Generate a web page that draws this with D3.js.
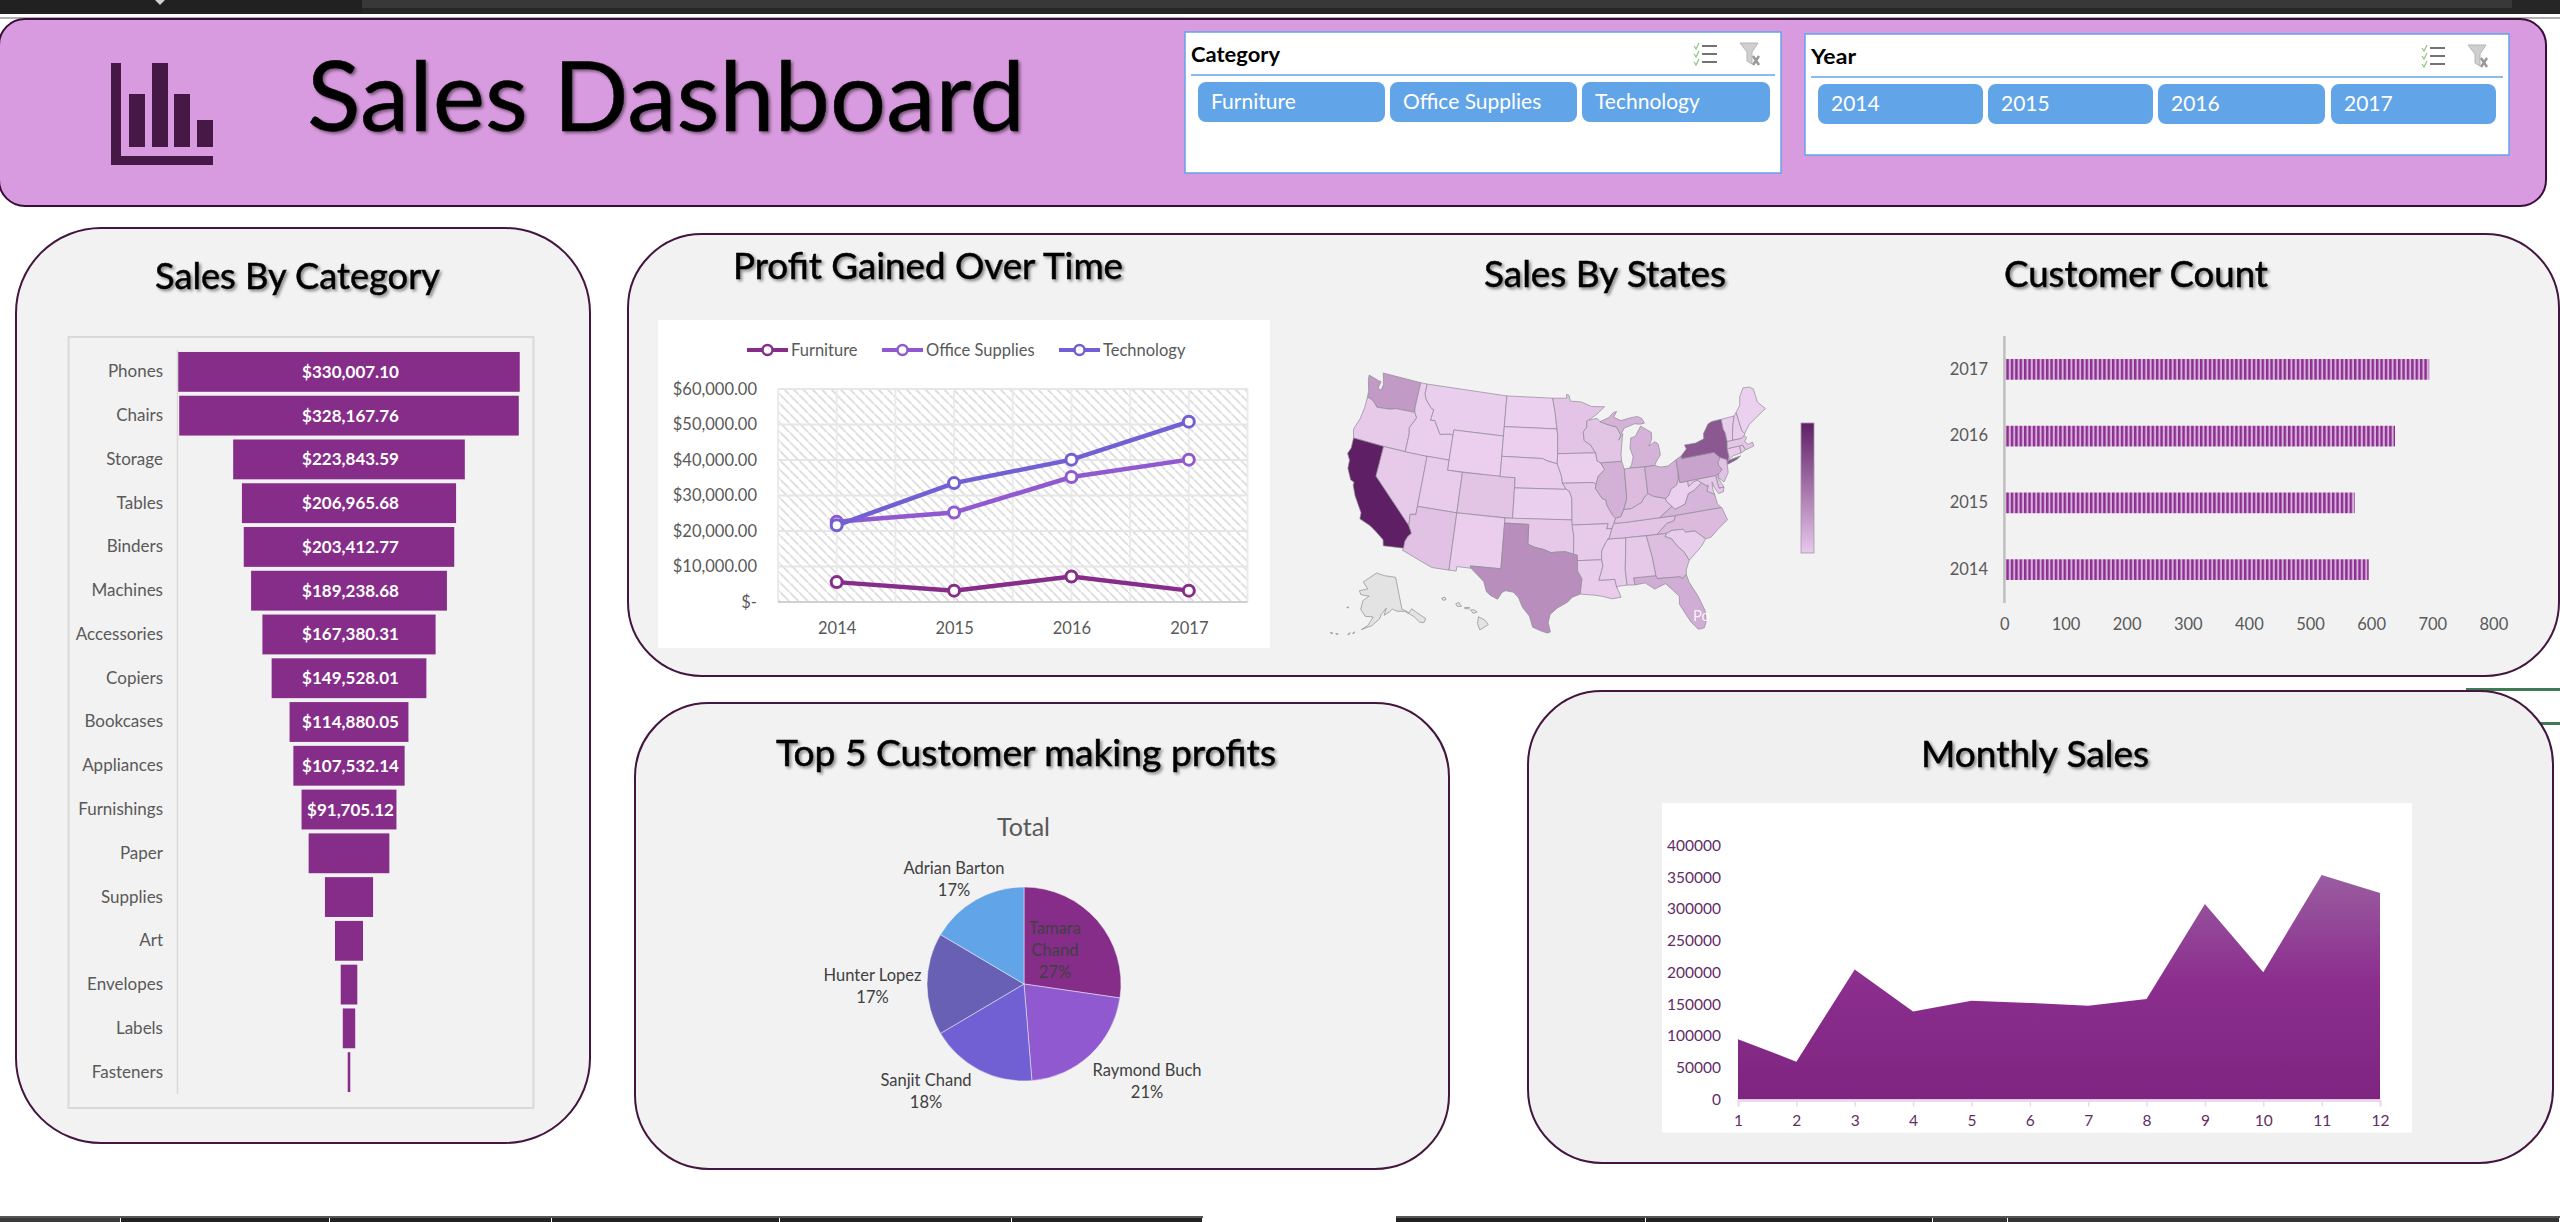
<!DOCTYPE html>
<html lang="en">
<head>
<meta charset="UTF-8">
<title>Sales Dashboard</title>
<style>
    body { margin: 0; background: #fff; }
    svg { display: block; font-family: Lato, "Open Sans", sans-serif; }
    .title { fill: #000; stroke: #000; stroke-width: 0.5px; filter: drop-shadow(2px 2px 1.5px rgba(0,0,0,.45)); }
</style>
<script src="https://d3js.org/d3.v7.min.js"></script>
</head>
<body>
<svg id="dash" width="2560" height="1222"></svg>
<script>
// ---- data ----
const categoryNames = ["Furniture", "Office Supplies", "Technology"];
const yearNames = ["2014", "2015", "2016", "2017"];

const subCategories = ["Phones", "Chairs", "Storage", "Tables", "Binders", "Machines", "Accessories", "Copiers", "Bookcases", "Appliances", "Furnishings", "Paper", "Supplies", "Art", "Envelopes", "Labels", "Fasteners"];
const subCategorySales = [330007.10, 328167.76, 223843.59, 206965.68, 203412.77, 189238.68, 167380.31, 149528.01, 114880.05, 107532.14, 91705.12, 78000, 46500, 27100, 16000, 12000, 2500];
const labelledBars = 11;

const profitYears = ["2014", "2015", "2016", "2017"];
const profitTicks = [0, 10000, 20000, 30000, 40000, 50000, 60000];
const furnitureProfit = [5600, 3200, 7200, 3200];
const officeProfit = [22600, 25200, 35200, 40100];
const technologyProfit = [21600, 33500, 40100, 50800];

const customerYears = ["2017", "2016", "2015", "2014"];
const customerCounts = [695, 639, 573, 596];
const customerTicks = [0, 100, 200, 300, 400, 500, 600, 700, 800];

const topCustomers = ["Tamara Chand", "Raymond Buch", "Sanjit Chand", "Hunter Lopez", "Adrian Barton"];
const topCustomerProfit = [27.3, 21.4, 17.8, 17.0, 16.5];
const topCustomerPct = ["27%", "21%", "18%", "17%", "17%"];

const months = [1, 2, 3, 4, 5, 6, 7, 8, 9, 10, 11, 12];
const monthlySales = [94700, 59300, 204600, 138200, 155100, 151800, 147400, 157800, 307400, 200200, 353100, 324800];
const monthlyTicks = [0, 50000, 100000, 150000, 200000, 250000, 300000, 350000, 400000];

const stateSales = {
    CA: 457688, NY: 310876, TX: 170188, WA: 138641, PA: 116512, FL: 89474, IL: 80166, OH: 78258, MI: 76270, VA: 70636,
    NC: 55603, IN: 53555, GA: 49096, KY: 36592, NJ: 35764, AZ: 35282, WI: 32115, CO: 32108, TN: 30662, MN: 29863,
    MA: 28634, DE: 27451, MD: 23706, RI: 22628, MO: 22205, OK: 19683, AL: 19511, OR: 17431, NV: 16729, CT: 13384,
    AR: 11678, UT: 11220, MS: 10771, LA: 9217, VT: 8929, SC: 8482, NE: 7465, NH: 7293, MT: 5589, NM: 4784,
    IA: 4580, ID: 4382, KS: 2914, DC: 2865, WY: 1603, SD: 1316, ME: 1271, WV: 1209, ND: 920
};

// rough state outlines, lon/lat
const stateRings = {
    WA: [[[-124.7,48.4],[-123.2,48.15],[-122.75,48.1],[-122.9,47.4],[-122.4,47.3],[-122.3,47.9],[-122.5,48.4],[-122.8,49],[-117.03,49],[-117.04,46.42],[-116.92,45.99],[-119,45.93],[-119.6,45.92],[-120.5,45.7],[-121.2,45.65],[-122.3,45.55],[-122.8,45.9],[-123.3,46.15],[-124,46.27],[-124.1,46.9],[-124.6,47.9]]],
    OR: [[[-124,46.27],[-123.3,46.15],[-122.8,45.9],[-122.3,45.55],[-121.2,45.65],[-120.5,45.7],[-119.6,45.92],[-119,45.93],[-116.92,45.99],[-116.5,45.5],[-116.85,44.95],[-117.2,44.4],[-117.03,43.8],[-117.03,42],[-120,42],[-124.2,42],[-124.55,42.85],[-124.1,44],[-123.95,45.2]]],
    CA: [[[-124.2,42],[-120,42],[-120,39],[-114.63,35],[-114.13,34.3],[-114.5,33.9],[-114.72,33.4],[-114.72,32.72],[-117.12,32.53],[-117.3,33.1],[-118.4,33.75],[-119.2,34.15],[-120.6,34.55],[-120.65,35.15],[-121.9,36.6],[-122.5,37.55],[-122.5,37.85],[-123,38],[-123.75,39],[-123.85,39.8],[-124.35,40.4],[-124.1,41]]],
    NV: [[[-120,42],[-117.03,42],[-114.04,42],[-114.04,37],[-114.04,36.2],[-114.75,36.1],[-114.63,35],[-120,39]]],
    ID: [[[-117.03,49],[-116.05,49],[-116.05,48],[-115.7,47.45],[-114.7,46.7],[-114.35,46.65],[-114.5,45.55],[-113.9,45.6],[-113.45,45.05],[-112.85,44.35],[-111.5,44.55],[-111.05,44.48],[-111.05,42],[-114.04,42],[-117.03,42],[-117.03,43.8],[-117.2,44.4],[-116.85,44.95],[-116.5,45.5],[-116.92,45.99],[-117.04,46.42]]],
    MT: [[[-116.05,49],[-104.05,49],[-104.05,45],[-111.05,45],[-111.05,44.48],[-111.5,44.55],[-112.85,44.35],[-113.45,45.05],[-113.9,45.6],[-114.5,45.55],[-114.35,46.65],[-114.7,46.7],[-115.7,47.45],[-116.05,48]]],
    WY: [[[-111.05,45],[-104.05,45],[-104.05,41],[-111.05,41]]],
    UT: [[[-114.04,42],[-111.05,42],[-111.05,41],[-109.05,41],[-109.05,37],[-114.04,37]]],
    CO: [[[-109.05,41],[-102.05,41],[-102.05,37],[-109.05,37]]],
    AZ: [[[-114.04,37],[-109.05,37],[-109.05,31.33],[-111.07,31.33],[-114.81,32.5],[-114.72,32.72],[-114.72,33.4],[-114.5,33.9],[-114.13,34.3],[-114.63,35],[-114.75,36.1],[-114.04,36.2]]],
    NM: [[[-109.05,37],[-103,37],[-103.04,32],[-106.62,32],[-106.53,31.78],[-108.2,31.78],[-108.2,31.33],[-109.05,31.33]]],
    ND: [[[-104.05,49],[-97.23,49],[-96.85,47.6],[-96.56,45.94],[-104.05,45.94]]],
    SD: [[[-104.05,45.94],[-96.56,45.94],[-96.45,45.3],[-96.45,43.5],[-96.5,42.5],[-97.9,42.8],[-98.5,43],[-104.05,43]]],
    NE: [[[-104.05,43],[-98.5,43],[-97.9,42.8],[-96.5,42.5],[-96.1,41.7],[-95.9,41.2],[-95.8,40.6],[-95.3,40],[-102.05,40],[-102.05,41],[-104.05,41]]],
    KS: [[[-102.05,40],[-95.3,40],[-94.9,39.8],[-94.6,39.1],[-94.62,37],[-102.05,37]]],
    OK: [[[-103,37],[-94.62,37],[-94.43,35.4],[-94.48,33.64],[-95.5,33.9],[-96.6,33.85],[-97.2,33.8],[-98.1,34.1],[-99.2,34.3],[-100,34.56],[-100,36.5],[-103,36.5]]],
    TX: [[[-103,36.5],[-100,36.5],[-100,34.56],[-99.2,34.3],[-98.1,34.1],[-97.2,33.8],[-96.6,33.85],[-95.5,33.9],[-94.48,33.64],[-94.04,33.55],[-94.04,33],[-94.04,31.99],[-93.55,31.2],[-93.8,29.7],[-94.7,29.4],[-95.3,28.9],[-96.4,28.35],[-97.2,27.7],[-97.4,26.9],[-97.15,25.95],[-97.5,25.85],[-98.2,26.05],[-99.1,26.4],[-99.5,27.5],[-100.3,28.3],[-100.8,29.25],[-101.4,29.77],[-102.3,29.88],[-102.7,29.7],[-103.15,28.98],[-104,29.3],[-104.5,29.65],[-104.9,30.6],[-106,31.4],[-106.53,31.78],[-106.62,32],[-103.04,32]]],
    MN: [[[-97.23,49],[-95.15,49],[-95.15,49.38],[-94.8,49.3],[-94.6,48.7],[-93,48.6],[-91.5,48.1],[-89.6,48],[-90.8,47.3],[-92.05,46.75],[-92.3,46.65],[-92.3,46.1],[-92.85,45.6],[-92.75,44.75],[-91.9,44.3],[-91.25,43.5],[-96.45,43.5],[-96.45,45.3],[-96.56,45.94],[-96.85,47.6]]],
    IA: [[[-96.45,43.5],[-91.25,43.5],[-91.1,42.7],[-90.65,42.5],[-90.15,41.8],[-91.05,41.2],[-91.4,40.4],[-91.73,40.6],[-95.8,40.6],[-95.9,41.2],[-96.1,41.7],[-96.5,42.5]]],
    MO: [[[-95.8,40.6],[-91.73,40.6],[-91.4,40.4],[-91.5,40],[-90.7,39],[-90.2,38.8],[-90.2,38.4],[-89.5,37.3],[-89.15,37],[-89.4,36.5],[-89.7,36],[-90.37,36],[-90.15,36.5],[-94.62,36.5],[-94.62,37],[-94.6,39.1],[-94.9,39.8],[-95.3,40]]],
    AR: [[[-94.62,36.5],[-90.15,36.5],[-90.37,36],[-89.7,36],[-90.1,35.1],[-90.6,34.6],[-91.1,33.9],[-91.17,33],[-94.04,33],[-94.04,33.55],[-94.48,33.64],[-94.43,35.4]]],
    LA: [[[-94.04,33],[-91.17,33],[-91.05,32.4],[-91.6,31],[-89.75,31],[-89.6,30.2],[-89.4,29.8],[-89.2,29.2],[-90.2,29.1],[-91.3,29.4],[-92.2,29.55],[-93.8,29.7],[-93.55,31.2],[-94.04,31.99]]],
    MS: [[[-90.3,35],[-88.2,35],[-88.1,34.9],[-88.47,31.9],[-88.4,30.35],[-89.35,30.3],[-89.6,30.2],[-89.75,31],[-91.6,31],[-91.05,32.4],[-91.17,33],[-91.1,33.9],[-90.6,34.6]]],
    TN: [[[-89.7,36],[-89.4,36.5],[-88.05,36.5],[-83.68,36.6],[-81.68,36.59],[-82,36.1],[-82.9,35.95],[-84.3,35],[-88.2,35],[-90.3,35],[-90.1,35.1]]],
    KY: [[[-89.4,36.5],[-89.15,37],[-88.5,37.1],[-88.05,37.8],[-87.1,37.8],[-86.3,38.1],[-85.7,38.3],[-85.4,38.7],[-84.8,39.1],[-84.2,38.8],[-83.7,38.65],[-82.6,38.4],[-82.6,38.15],[-81.97,37.54],[-83.68,36.6],[-88.05,36.5]]],
    IL: [[[-90.65,42.5],[-87.8,42.5],[-87.55,41.75],[-87.53,39.35],[-87.6,38.7],[-88.05,37.8],[-88.5,37.1],[-89.15,37],[-89.5,37.3],[-90.2,38.4],[-90.2,38.8],[-90.7,39],[-91.5,40],[-91.4,40.4],[-91.05,41.2],[-90.15,41.8]]],
    WI: [[[-92.05,46.75],[-90.8,46.9],[-90.4,46.55],[-89.1,46.15],[-88.1,45.9],[-87.6,45.1],[-87.95,44.6],[-87.3,45.2],[-87.55,44.3],[-87.8,43.2],[-87.8,42.5],[-90.65,42.5],[-91.1,42.7],[-91.25,43.5],[-91.9,44.3],[-92.75,44.75],[-92.85,45.6],[-92.3,46.1],[-92.3,46.65]]],
    MI: [[[-86.8,41.76],[-84.8,41.72],[-83.45,41.73],[-83.15,42.1],[-82.5,42.7],[-82.5,43],[-82.6,43.8],[-83,44.05],[-83.9,43.7],[-83.4,44.3],[-83.3,45],[-84.7,45.75],[-85.6,44.8],[-86.25,44.7],[-86.5,43.7],[-86.2,42.8],[-86.5,42.1]],
         [[-90.4,46.55],[-89.1,46.9],[-88.4,47.35],[-87.9,47.45],[-88.4,46.9],[-87.4,46.5],[-86.1,46.67],[-85,46.75],[-84.4,46.5],[-84.1,46],[-84.7,45.95],[-85.5,46.05],[-86.5,45.85],[-87,45.75],[-87.6,45.1],[-88.1,45.9],[-89.1,46.15]]],
    IN: [[[-87.53,41.72],[-86.8,41.76],[-84.8,41.72],[-84.8,39.1],[-85.4,38.7],[-85.7,38.3],[-86.3,38.1],[-87.1,37.8],[-88.05,37.8],[-87.6,38.7],[-87.53,39.35]]],
    OH: [[[-84.8,41.72],[-83.45,41.73],[-82.7,41.5],[-81.7,41.5],[-80.52,41.98],[-80.52,40.64],[-80.65,40],[-81,39.5],[-81.75,39.2],[-82.2,38.6],[-82.6,38.4],[-83.7,38.65],[-84.2,38.8],[-84.8,39.1]]],
    WV: [[[-80.52,40.64],[-80.52,39.72],[-79.48,39.72],[-79.48,39.2],[-78.75,39.55],[-78.2,39.65],[-77.75,39.32],[-78.35,39],[-78.9,38.7],[-79.65,38.5],[-80.3,37.55],[-81.25,37.3],[-81.68,37.2],[-81.97,37.54],[-82.6,38.15],[-82.6,38.4],[-82.2,38.6],[-81.75,39.2],[-81,39.5],[-80.65,40]]],
    VA: [[[-83.68,36.6],[-81.97,37.54],[-81.68,37.2],[-81.25,37.3],[-80.3,37.55],[-79.65,38.5],[-78.9,38.7],[-78.35,39],[-77.75,39.32],[-77.05,38.85],[-77.25,38.4],[-76.4,37.95],[-76.3,37],[-75.95,36.55],[-81.68,36.59]]],
    NC: [[[-81.68,36.59],[-75.87,36.55],[-75.5,35.25],[-76.6,34.7],[-77.9,33.9],[-78.55,33.85],[-79.67,34.8],[-80.8,34.82],[-81.05,35.15],[-82.4,35.2],[-83.1,35],[-84.3,35],[-82.9,35.95],[-82,36.1]]],
    SC: [[[-83.1,35],[-82.4,35.2],[-81.05,35.15],[-80.8,34.82],[-79.67,34.8],[-78.55,33.85],[-79.2,33.2],[-80.1,32.6],[-80.9,32.05],[-81.4,33],[-82,33.55],[-82.6,34.4],[-83.35,34.7]]],
    GA: [[[-85.6,35],[-84.3,35],[-83.1,35],[-83.35,34.7],[-82.6,34.4],[-82,33.55],[-81.4,33],[-80.9,32.05],[-81.4,31.2],[-81.5,30.72],[-82.05,30.36],[-82.2,30.57],[-84.86,30.7],[-85,31],[-85.1,32],[-85.18,32.87]]],
    FL: [[[-87.6,31],[-85,31],[-84.86,30.7],[-82.2,30.57],[-82.05,30.36],[-81.5,30.72],[-81.3,29.9],[-80.55,28.4],[-80.05,26.9],[-80.15,25.75],[-80.45,25.2],[-81.1,25.15],[-81.75,25.95],[-82.15,26.7],[-82.75,27.9],[-82.65,28.7],[-83.4,29.5],[-84,30.1],[-85.3,29.7],[-86.3,30.4],[-87.5,30.3]]],
    AL: [[[-88.2,35],[-85.6,35],[-85.18,32.87],[-85.1,32],[-85,31],[-87.6,31],[-87.5,30.3],[-88.4,30.35],[-88.47,31.9],[-88.1,34.9]]],
    PA: [[[-80.52,41.98],[-79.76,42.27],[-79.76,42],[-75.35,42],[-74.7,41.36],[-75.1,40.95],[-75.1,40.6],[-74.75,40.2],[-75.4,39.8],[-75.79,39.72],[-79.48,39.72],[-80.52,39.72],[-80.52,40.64]]],
    NY: [[[-79.76,42.27],[-78.9,42.85],[-79.05,43.27],[-77.5,43.25],[-76.3,43.5],[-76.2,44],[-75.3,44.85],[-74.7,45],[-73.35,45],[-73.4,44],[-73.25,43.6],[-73.28,42.75],[-73.5,42.05],[-73.5,41.3],[-73.65,41],[-73.95,40.75],[-73.9,41],[-74.7,41.36],[-75.35,42],[-79.76,42]],
         [[-74,40.6],[-73.7,40.9],[-72.6,41],[-72,41.05],[-72.6,40.8],[-73.9,40.55]]],
    NJ: [[[-74.7,41.36],[-73.9,41],[-74,40.45],[-74.1,39.75],[-74.9,38.95],[-75.5,39.5],[-75.4,39.8],[-74.75,40.2],[-75.1,40.6],[-75.1,40.95]]],
    DE: [[[-75.79,39.72],[-75.4,39.8],[-75.55,39.5],[-75.05,38.45],[-75.7,38.46]]],
    MD: [[[-79.48,39.72],[-75.79,39.72],[-75.7,38.46],[-75.05,38.45],[-75.25,38.03],[-75.9,37.95],[-76.25,38.6],[-76.4,39.2],[-76.5,38.5],[-76.4,37.95],[-77.25,38.4],[-77.05,38.85],[-77.75,39.32],[-78.2,39.65],[-78.75,39.55],[-79.48,39.2]]],
    DC: [[[-77.12,38.93],[-77.04,39],[-76.91,38.89],[-77.04,38.8]]],
    CT: [[[-73.5,42.05],[-71.8,42.02],[-71.85,41.32],[-72.9,41.25],[-73.65,41],[-73.5,41.3]]],
    RI: [[[-71.8,42.02],[-71.38,42.02],[-71.15,41.5],[-71.85,41.32]]],
    MA: [[[-73.5,42.05],[-73.28,42.75],[-72.46,42.73],[-71.3,42.7],[-70.85,42.88],[-70.6,42.65],[-71,42.3],[-70.6,41.95],[-70,42.05],[-69.95,41.67],[-70.65,41.55],[-71.15,41.5],[-71.38,42.02],[-71.8,42.02]]],
    VT: [[[-73.35,45],[-71.5,45.01],[-72.05,44],[-72.45,43],[-72.46,42.73],[-73.28,42.75],[-73.25,43.6],[-73.4,44]]],
    NH: [[[-71.5,45.01],[-71.08,45.3],[-70.98,43.4],[-70.7,43.07],[-70.85,42.88],[-71.3,42.7],[-72.46,42.73],[-72.45,43],[-72.05,44]]],
    ME: [[[-71.08,45.3],[-70.3,45.9],[-70,46.7],[-69.2,47.45],[-68.3,47.35],[-67.8,47.05],[-67.8,45.7],[-67,44.85],[-68.5,44.3],[-69.8,43.8],[-70.7,43.07],[-70.98,43.4]]]
};
const alaskaRings = [
    [[-141,69.6],[-141,60.3],[-139.5,59.8],[-137.5,58.9],[-135.5,59.8],[-133.5,58.4],[-130,55.9],[-131.5,55],[-133.5,55.5],[-135.5,57.5],[-137,58.3],[-139.8,59.6],[-144,60],[-146.5,60.8],[-148.5,60],[-151.5,59.2],[-150,61.2],[-153,59.5],[-154,58.2],[-158,56.2],[-163,54.8],[-160,56.2],[-157.5,58.7],[-162,58.7],[-165,60.5],[-164.5,63],[-161,64.5],[-166.5,64.6],[-168,65.6],[-162.5,66.5],[-166.5,68.3],[-163,69.5],[-156.6,71.3],[-150,70.5]],
    [[-166.9,53.4],[-166.2,53.9],[-166,53.6],[-166.7,53.2]],
    [[-169,52.8],[-168.2,53.4],[-168,53.2],[-168.9,52.6]],
    [[-174.5,52.1],[-173.5,52.2],[-173.5,52],[-174.5,51.95]],
    [[-177,51.9],[-176,52],[-176,51.7],[-177,51.7]],
    [[-173,60.2],[-172.2,60.4],[-172.2,60.1],[-173,60]]
];
const hawaiiRings = [
    [[-155.85,20.27],[-155.2,19.95],[-154.8,19.5],[-155.7,18.95],[-155.95,19.6]],
    [[-156.7,20.95],[-156.3,20.95],[-156,20.75],[-156.4,20.6]],
    [[-157.3,21.2],[-156.75,21.17],[-156.9,21.05],[-157.3,21.08]],
    [[-158.25,21.55],[-157.95,21.7],[-157.65,21.3],[-158.1,21.3]],
    [[-159.75,22.1],[-159.4,22.22],[-159.3,21.95],[-159.6,21.9]]
];

// ---- colours ----
const seriesColors = ["#862d8a", "#9159cf", "#7160d3"];
const pieColors = ["#862d8a", "#9159cf", "#7160d3", "#6760b5", "#62a4e8"];
const panelStroke = "#43163f", grey = "#595959";

const svg = d3.select("#dash");
const defs = svg.append("defs");

// hatch behind the line chart
const hatch = defs.append("pattern").attr("id", "hatch").attr("patternUnits", "userSpaceOnUse")
    .attr("width", 9.4).attr("height", 9.4);
hatch.append("path").attr("d", "M-1,-1L10.4,10.4").attr("stroke", "#d9d9d9").attr("stroke-width", 1.6);

// stripes of the customer bars
const stripes = defs.append("pattern").attr("id", "stripes").attr("patternUnits", "userSpaceOnUse")
    .attr("width", 4.4).attr("height", 30);
stripes.append("rect").attr("width", 4.4).attr("height", 30).attr("fill", "#d8b0db");
stripes.append("rect").attr("width", 2.4).attr("height", 30).attr("fill", "#8b2f90");

// ---- helpers ----
function panel(x, y, w, h, r, fill) {
    svg.append("rect").attr("x", x).attr("y", y).attr("width", w).attr("height", h).attr("rx", r).attr("ry", r)
        .attr("fill", fill || "#f2f2f2").attr("stroke", panelStroke).attr("stroke-width", 2);
}
function title(text, x0, x1, baseline, size) {
    svg.append("text").attr("class", "title").attr("x", x0).attr("y", baseline).attr("font-size", size)
        .attr("textLength", x1 - x0).attr("lengthAdjust", "spacingAndGlyphs").text(text);
}
function whiteBox(x, y, w, h) {
    svg.append("rect").attr("x", x).attr("y", y).attr("width", w).attr("height", h).attr("fill", "#fff");
}
function styleAxis(g, color, size) {
    g.select(".domain").remove();
    g.selectAll(".tick line").remove();
    g.selectAll("text").attr("fill", color).attr("font-size", size).attr("font-family", "Lato");
}

// ---- window chrome ----
svg.append("rect").attr("width", 2560).attr("height", 14).attr("fill", "#262626");
svg.append("rect").attr("x", 362).attr("width", 2150).attr("height", 8).attr("fill", "#383838");
svg.append("rect").attr("width", 362).attr("height", 14).attr("fill", "#212121");
svg.append("path").attr("d", "M155,0L165,0L160,5Z").attr("fill", "#d0d0d0");
svg.append("rect").attr("y", 17).attr("width", 2560).attr("height", 2).attr("fill", "#b0b0b0");

const footerBlocks = [[0, 121, "#3a3a3a"], [121, 209, "#222"], [330, 222, "#222"], [552, 228, "#222"], [780, 232, "#222"], [1012, 191, "#222"],
    [1396, 250, "#222"], [1646, 287, "#222"], [1933, 75, "#333"], [2008, 552, "#333"]];
footerBlocks.forEach(b => {
    svg.append("rect").attr("x", b[0]).attr("y", 1216).attr("width", b[1] - 1).attr("height", 6).attr("fill", b[2]);
    svg.append("rect").attr("x", b[0]).attr("y", 1216).attr("width", b[1]).attr("height", 2).attr("fill", "#555");
});

// stray cell borders on the right
svg.append("rect").attr("x", 2466).attr("y", 688).attr("width", 94).attr("height", 3).attr("fill", "#3f7a55");
svg.append("rect").attr("x", 2539).attr("y", 722).attr("width", 21).attr("height", 3).attr("fill", "#3f7a55");

// ---- header ----
svg.append("rect").attr("x", -1).attr("y", 19).attr("width", 2547).attr("height", 187).attr("rx", 26).attr("ry", 26)
    .attr("fill", "#d99bdf").attr("stroke", "#3a0c3c").attr("stroke-width", 2);

// chart icon
const iconColor = "#451845";
[[111, 63, 10, 102], [111, 156, 102, 9], [129, 94, 16, 53], [152, 63, 16, 84], [174, 94, 16, 53], [197, 120, 16, 27]].forEach(r => {
    svg.append("rect").attr("x", r[0]).attr("y", r[1]).attr("width", r[2]).attr("height", r[3]).attr("fill", iconColor);
});
title("Sales Dashboard", 307, 1025, 131, 96);

function slicer(name, items, x, y, w, h, btnY, btnXs) {
    svg.append("rect").attr("x", x).attr("y", y).attr("width", w).attr("height", h)
        .attr("fill", "#fff").attr("stroke", "#62a4e8").attr("stroke-width", 1.5);
    svg.append("text").attr("x", x + 6).attr("y", y + 30).attr("font-size", 21).attr("font-weight", 700).attr("fill", "#000")
        .attr("textLength", name.length > 4 ? 89 : 45).attr("lengthAdjust", "spacingAndGlyphs").text(name);
    svg.append("line").attr("x1", x + 6).attr("x2", x + w - 6).attr("y1", y + 43).attr("y2", y + 43).attr("stroke", "#62a4e8").attr("stroke-width", 1.5);

    // multi select + clear filter icons
    const ix = x + w - 87, iy = y + 11;
    [0, 1, 2].forEach(i => {
        svg.append("path").attr("d", `M${ix},${iy + 3 + i * 8}l2,3l3,-6`).attr("fill", "none").attr("stroke", "#8fc47f").attr("stroke-width", 1.2);
        svg.append("line").attr("x1", ix + 8).attr("x2", ix + 23).attr("y1", iy + 3 + i * 8).attr("y2", iy + 3 + i * 8).attr("stroke", "#444").attr("stroke-width", 1.5);
    });
    const fx = x + w - 41;
    svg.append("path").attr("d", `M${fx},${iy}h18l-6,9v12l-5,-3v-9Z`).attr("fill", "#cfcfcf").attr("stroke", "#b5b5b5");
    svg.append("path").attr("d", `M${fx + 13},${iy + 13}l6,9m0,-9l-6,9`).attr("stroke", "#999").attr("stroke-width", 2.5);

    items.forEach((t, i) => {
        svg.append("rect").attr("x", btnXs[i][0]).attr("y", btnY).attr("width", btnXs[i][1] - btnXs[i][0]).attr("height", 40).attr("rx", 8)
            .attr("fill", "#62a4e8");
        svg.append("text").attr("x", btnXs[i][0] + 13).attr("y", btnY + 27).attr("font-size", 21).attr("fill", "#fff").text(t);
    });
}
slicer("Category", categoryNames, 1185, 32, 596, 141, 82, [[1198, 1385], [1390, 1577], [1582, 1770]]);
slicer("Year", yearNames, 1805, 34, 704, 121, 84, [[1818, 1983], [1988, 2153], [2158, 2325], [2331, 2496]]);

// ---- sales by category funnel ----
panel(16, 228, 574, 915, 85);
title("Sales By Category", 155, 440, 289, 36);
svg.append("rect").attr("x", 68.5).attr("y", 337).attr("width", 465).attr("height", 771).attr("fill", "none").attr("stroke", "#d9d9d9").attr("stroke-width", 2);

const funnelY = d3.scaleBand().domain(subCategories).range([350, 1094]).paddingInner(0.09).paddingOuter(0.045);
const funnelW = d3.scaleLinear().domain([0, d3.max(subCategorySales)]).range([0, 341.5]);
const funnelCx = 349;

svg.append("line").attr("x1", 177.5).attr("x2", 177.5).attr("y1", 350).attr("y2", 1094).attr("stroke", "#d9d9d9").attr("stroke-width", 1.5);
svg.append("g").selectAll("rect").data(subCategories).join("rect")
    .attr("x", (d, i) => funnelCx - funnelW(subCategorySales[i]) / 2)
    .attr("y", d => funnelY(d))
    .attr("width", (d, i) => funnelW(subCategorySales[i]))
    .attr("height", funnelY.bandwidth())
    .attr("fill", "#862d8a");
svg.append("g").attr("transform", "translate(172,0)").call(d3.axisLeft(funnelY).tickSize(0).tickPadding(9))
    .call(g => styleAxis(g, grey, 17));

const money = d3.format("$,.2f");
svg.append("g").selectAll("text").data(subCategories.slice(0, labelledBars)).join("text")
    .attr("x", funnelCx + 1.5)
    .attr("y", d => funnelY(d) + funnelY.bandwidth() / 2 + 6)
    .attr("text-anchor", "middle").attr("font-size", 17).attr("font-weight", 700).attr("fill", "#fff")
    .text((d, i) => money(subCategorySales[i]));

// ---- wide panel ----
panel(628, 234, 1931, 442, 74);

// profit over time
title("Profit Gained Over Time", 733, 1123, 279, 36);
whiteBox(658, 320, 612, 328);

const profitX = d3.scalePoint().domain(profitYears).range([778, 1247.5]).padding(0.5);
const profitY = d3.scaleLinear().domain([0, 60000]).range([602, 389]);
svg.append("rect").attr("x", 778).attr("y", 389).attr("width", 469.5).attr("height", 213).attr("fill", "url(#hatch)");

const minorXs = d3.range(9).map(i => 778 + i * 469.5 / 8);
svg.append("g").selectAll("line").data(minorXs).join("line")
    .attr("x1", d => d).attr("x2", d => d).attr("y1", 389).attr("y2", 602).attr("stroke", "#ebebeb").attr("stroke-width", 2);
svg.append("g").selectAll("line").data(profitTicks).join("line")
    .attr("x1", 778).attr("x2", 1247.5).attr("y1", d => profitY(d)).attr("y2", d => profitY(d))
    .attr("stroke", d => d === 0 ? "#d0d0d0" : "#e6e6e6").attr("stroke-width", 2);

svg.append("g").attr("transform", "translate(757,0)")
    .call(d3.axisLeft(profitY).tickValues(profitTicks).tickSize(0).tickPadding(0).tickFormat(d => d === 0 ? "$-    " : money(d)))
    .call(g => styleAxis(g, grey, 16.5));
svg.append("g").attr("transform", "translate(0,602)").call(d3.axisBottom(profitX).tickSize(0).tickPadding(20))
    .call(g => styleAxis(g, grey, 16.5));

const profitSeries = [furnitureProfit, officeProfit, technologyProfit];
const profitLine = d3.line().x((d, i) => profitX(profitYears[i])).y(d => profitY(d));
profitSeries.forEach((vals, k) => {
    svg.append("path").attr("d", profitLine(vals)).attr("fill", "none").attr("stroke", seriesColors[k]).attr("stroke-width", 4.5);
    svg.append("g").selectAll("circle").data(vals).join("circle")
        .attr("cx", (d, i) => profitX(profitYears[i])).attr("cy", d => profitY(d)).attr("r", 5.5)
        .attr("fill", "#fff").attr("stroke", seriesColors[k]).attr("stroke-width", 3);
});

const legendXs = [747, 882, 1059];
categoryNames.forEach((name, k) => {
    const lx = legendXs[k];
    svg.append("line").attr("x1", lx).attr("x2", lx + 41).attr("y1", 350).attr("y2", 350).attr("stroke", seriesColors[k]).attr("stroke-width", 4);
    svg.append("circle").attr("cx", lx + 20.5).attr("cy", 350).attr("r", 5).attr("fill", "#fff").attr("stroke", seriesColors[k]).attr("stroke-width", 2.5);
    svg.append("text").attr("x", lx + 44).attr("y", 356).attr("font-size", 16.5).attr("fill", grey).text(name);
});

// sales by states
title("Sales By States", 1484, 1726, 287, 36);

const lower48 = d3.geoAlbers().fitExtent([[1347, 373], [1766, 633]], { type: "MultiPoint", coordinates: Object.values(stateRings).flat(2) });
const stateColor = d3.scaleLinear().domain([0, d3.max(Object.values(stateSales))]).range(["#ecd0ef", "#5f1f65"]);

const ringPath = (rings, proj) => rings.map(r => d3.line()(r.map(proj)) + "Z").join("");
const mapStroke = "#8e8a94";
svg.append("g").selectAll("path").data(Object.keys(stateRings)).join("path")
    .attr("d", d => ringPath(stateRings[d], lower48))
    .attr("fill", d => stateColor(stateSales[d]))
    .attr("stroke", mapStroke).attr("stroke-width", 0.7).attr("stroke-linejoin", "round");

const alaskaProj = d3.geoConicEqualArea().rotate([154, 0]).parallels([55, 65])
    .fitExtent([[1320, 573], [1436, 635]], { type: "MultiPoint", coordinates: alaskaRings.flat() });
const hawaiiProj = d3.geoMercator().fitExtent([[1440, 597], [1490, 630]], { type: "MultiPoint", coordinates: hawaiiRings.flat() });
svg.append("path").attr("d", ringPath(alaskaRings, alaskaProj)).attr("fill", "#e3e3e3").attr("stroke", mapStroke).attr("stroke-width", 0.7);
svg.append("path").attr("d", ringPath(hawaiiRings, hawaiiProj)).attr("fill", "#e3e3e3").attr("stroke", mapStroke).attr("stroke-width", 0.7);
svg.append("text").attr("x", 1693).attr("y", 621).attr("font-size", 15).attr("fill", "#fff").attr("opacity", 0.85).text("Po");

const mapLegend = defs.append("linearGradient").attr("id", "mapLegend").attr("x1", 0).attr("x2", 0).attr("y1", 0).attr("y2", 1);
mapLegend.append("stop").attr("offset", 0).attr("stop-color", stateColor.range()[1]);
mapLegend.append("stop").attr("offset", 1).attr("stop-color", "#e8c8ec");
svg.append("rect").attr("x", 1801).attr("y", 423).attr("width", 13).attr("height", 130).attr("fill", "url(#mapLegend)")
    .attr("stroke", "#a695ab").attr("stroke-width", 0.8);

// customer count
title("Customer Count", 2004, 2268, 287, 36);
const custX = d3.scaleLinear().domain([0, 800]).range([2004.4, 2493.4]);
const custY = d3.scaleBand().domain(customerYears).range([336, 603]).paddingInner(0.69).paddingOuter(0.345);
svg.append("g").selectAll("rect").data(customerYears).join("rect")
    .attr("x", custX(0) + 1).attr("y", d => custY(d))
    .attr("width", (d, i) => custX(customerCounts[i]) - custX(0) - 1)
    .attr("height", custY.bandwidth())
    .attr("fill", "url(#stripes)");
svg.append("line").attr("x1", custX(0)).attr("x2", custX(0)).attr("y1", 336).attr("y2", 603).attr("stroke", "#bfbfbf").attr("stroke-width", 2.5);
svg.append("g").attr("transform", "translate(1988,0)").call(d3.axisLeft(custY).tickSize(0).tickPadding(0))
    .call(g => styleAxis(g, grey, 16.5));
svg.append("g").attr("transform", "translate(0,603)").call(d3.axisBottom(custX).tickValues(customerTicks).tickSize(0).tickPadding(15).tickFormat(d3.format("d")))
    .call(g => styleAxis(g, grey, 16.5));

// ---- top 5 customers pie ----
panel(635, 703, 814, 466, 74);
title("Top 5 Customer making profits", 776, 1276, 766, 36);
svg.append("text").attr("x", 1023.5).attr("y", 836).attr("text-anchor", "middle").attr("font-size", 25).attr("fill", grey).text("Total");

const pieLayout = d3.pie().sort(null)(topCustomerProfit);
const pieArc = d3.arc().innerRadius(0).outerRadius(97);
svg.append("g").attr("transform", "translate(1024,984)").selectAll("path").data(pieLayout).join("path")
    .attr("d", pieArc).attr("fill", (d, i) => pieColors[i]).attr("stroke", "#f2f2f2").attr("stroke-width", 0.5);

const pieLabelAt = [[1055, 934], [1147, 1076], [926, 1086], [872.5, 981], [954, 874]];
const pieLabelLines = [["Tamara", "Chand"], ["Raymond Buch"], ["Sanjit Chand"], ["Hunter Lopez"], ["Adrian Barton"]];
topCustomers.forEach((name, i) => {
    const lines = pieLabelLines[i].concat(topCustomerPct[i]);
    const t = svg.append("text").attr("text-anchor", "middle").attr("font-size", 16.5).attr("fill", "#404040");
    lines.forEach((s, j) => t.append("tspan").attr("x", pieLabelAt[i][0]).attr("y", pieLabelAt[i][1] + j * 22).text(s));
});

// ---- monthly sales ----
panel(1528, 691, 1025, 472, 74, "#f0f0f0");
title("Monthly Sales", 1921, 2149, 767, 36);
whiteBox(1662, 803, 750, 329.5);

const monthX = d3.scalePoint().domain(months).range([1738, 2380]);
const monthY = d3.scaleLinear().domain([0, 400000]).range([1099.3, 845.3]);
const areaFill = defs.append("linearGradient").attr("id", "areaFill").attr("gradientUnits", "userSpaceOnUse")
    .attr("x1", 0).attr("x2", 0).attr("y1", monthY(d3.max(monthlySales))).attr("y2", monthY(0));
areaFill.append("stop").attr("offset", 0).attr("stop-color", "#9a5ca0");
areaFill.append("stop").attr("offset", 0.48).attr("stop-color", "#8b2e8e");
areaFill.append("stop").attr("offset", 1).attr("stop-color", "#7e2580");

const monthArea = d3.area().x((d, i) => monthX(months[i])).y0(monthY(0)).y1(d => monthY(d));
svg.append("path").attr("d", monthArea(monthlySales)).attr("fill", "url(#areaFill)");

const monthLabel = "#5f2d66";
svg.append("g").attr("transform", "translate(1721,0)").call(d3.axisLeft(monthY).tickValues(monthlyTicks).tickSize(0).tickPadding(0).tickFormat(d3.format("d")))
    .call(g => styleAxis(g, monthLabel, 15.5));
const monthAxis = svg.append("g").attr("transform", "translate(0,1100.5)").call(d3.axisBottom(monthX).tickSize(6).tickPadding(8));
monthAxis.select(".domain").attr("stroke", "#ecd8ee").attr("stroke-width", 2);
monthAxis.selectAll(".tick line").attr("stroke", "#ecd8ee").attr("stroke-width", 1.5);
monthAxis.selectAll("text").attr("fill", monthLabel).attr("font-size", 15.5).attr("font-family", "Lato");
</script>
</body>
</html>
